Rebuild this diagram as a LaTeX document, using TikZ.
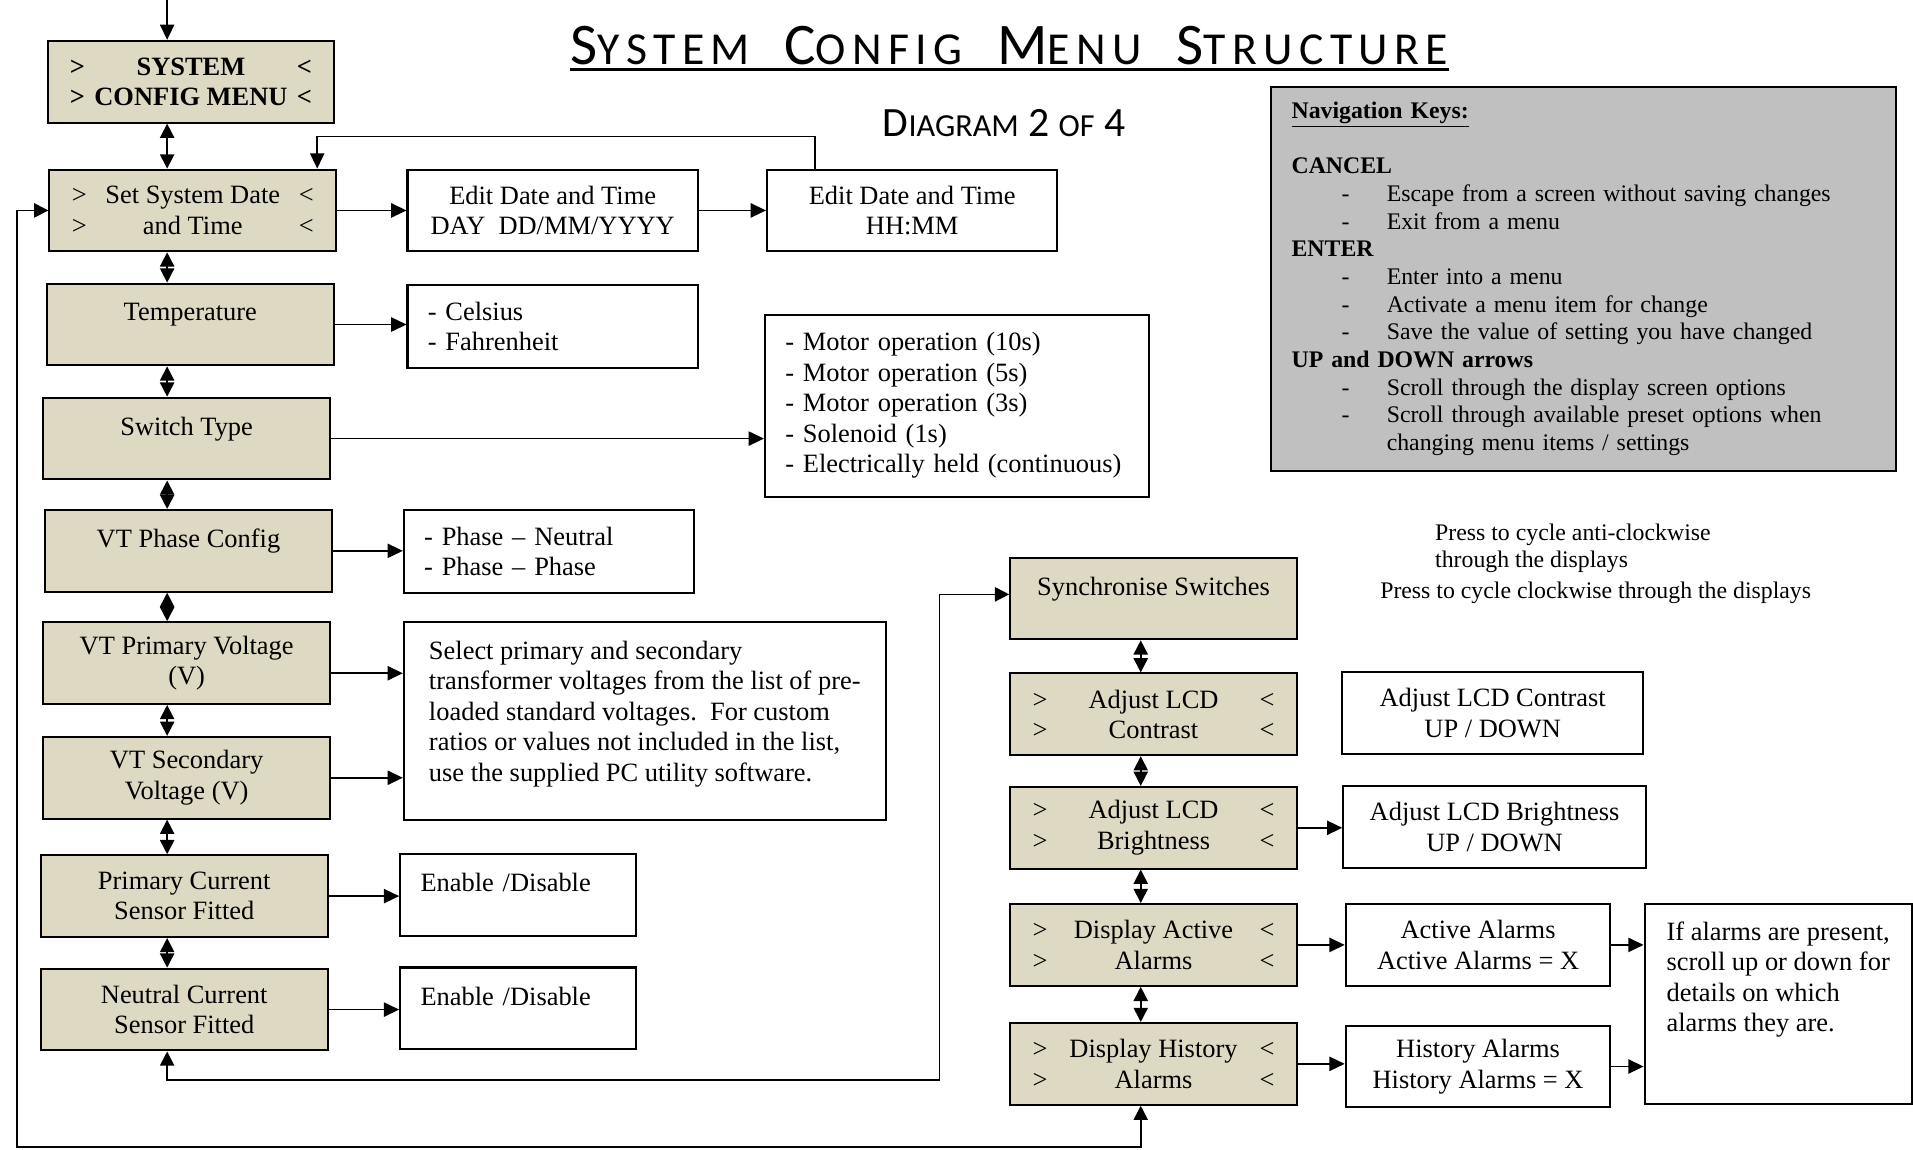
\documentclass[tikz,border=0pt]{standalone}
\usepackage{fontspec}
\setmainfont{Liberation Serif}
\newfontfamily\titlefont[LetterSpace=14]{Carlito}
\newfontfamily\subfont{Carlito}
\usetikzlibrary{arrows.meta, positioning}

\definecolor{menufill}{RGB}{221,217,195}
\definecolor{keyfill}{RGB}{192,192,192}

% one line of a menu screen: > text <
\newcommand{\mrow}[1]{\makebox[119pt]{>\hfill #1\hfill<}}
% fake small caps: big first letter, smaller rest
\newcommand{\sctext}[4]{{\fontsize{#1}{#1}\selectfont #3}{\fontsize{#2}{#2}\selectfont #4}}
% one entry of the navigation keys list
\newcommand{\navitem}[1]{\hspace*{24.6pt}\makebox[22.2pt][l]{-}#1}

\begin{document}
\begin{tikzpicture}[
    x=0.6pt, y=-0.6pt,
    node distance=33pt and 33pt,
    every node/.style = {font=\fontsize{13}{15}\selectfont},
    menu/.style = {rectangle, draw, fill=menufill, line width=1pt, minimum width=141pt, minimum height=40.2pt, align=center, inner sep=2pt},
    option/.style = {rectangle, draw, fill=white, line width=1pt, minimum height=40.2pt, align=center, inner sep=2pt},
    listbox/.style = {rectangle, draw, fill=white, line width=1pt, align=left, inner xsep=10pt, inner ysep=2pt},
    note/.style = {align=left, inner sep=0pt, font=\fontsize{11.7}{13.6}\selectfont},
    link/.style = {line width=0.8pt, -{Triangle[length=7.5pt, width=7pt]}},
    updown/.style = {line width=0.8pt, {Triangle[length=7pt, width=7pt]}-{Triangle[length=7pt, width=7pt]}}]

    \useasboundingbox (0,0) rectangle (1568,942);

    % title
    \node[inner sep=0pt, font=\titlefont] (title) at (827.5,37) {\sctext{29}{22.5}{S}{YSTEM}\hspace{17pt}\sctext{29}{22.5}{C}{ONFIG}\hspace{17pt}\sctext{29}{22.5}{M}{ENU}\hspace{17pt}\sctext{29}{22.5}{S}{TRUCTURE}};
    \draw[line width=1.6pt] (title.south west |- 0,57) -- (title.south east |- 0,57);
    \node[inner sep=0pt, font=\subfont] (diagno) at (823,101) {\sctext{20.5}{15.8}{D}{IAGRAM}\hspace{4.6pt}\sctext{20.5}{15.8}{2}{}\hspace{4.6pt}\sctext{20.5}{15.8}{}{OF}\hspace{4.6pt}\sctext{20.5}{15.8}{4}{}};

    % main menu column
    \node[menu, font=\fontsize{13}{15}\selectfont\bfseries] (sysmenu) at (156.5,67) {\mrow{SYSTEM}\\\mrow{CONFIG MENU}};
    \node[menu] (setdate) at (158,172.5) {\mrow{Set System Date}\\\mrow{and Time}};
    \node[menu] (temp) at (156,266) {Temperature\\[-3pt]\mbox{}};
    \node[menu] (swtype) at (153,359.5) {Switch Type\\[-3pt]\mbox{}};
    \node[menu] (vtphase) at (154.5,451.5) {VT Phase Config\\[-3pt]\mbox{}};
    \node[menu] (vtprim) at (153,543.5) {VT Primary Voltage\\(V)};
    \node[menu] (vtsec) at (153,637.5) {VT Secondary\\Voltage (V)};
    \node[menu] (primcur) at (151,734.5) {Primary Current\\Sensor Fitted};
    \node[menu] (neutcur) at (151,827.5) {Neutral Current\\Sensor Fitted};

    % settings for the main column
    \node[option, minimum width=142.8pt] (datedmy) at (453,172.5) {Edit Date and Time\\DAY\ \ DD/MM/YYYY};
    \node[option, minimum width=142.8pt, right=33pt of datedmy] (datehm) {Edit Date and Time\\HH:MM};
    \node[listbox, text width=122.8pt, minimum height=40.5pt] (tempopt) at (453,267.5) {- Celsius\\- Fahrenheit};
    \node[listbox, text width=169pt, minimum height=89.4pt] (swopt) at (784.5,332.5) {- Motor operation (10s)\\- Motor operation (5s)\\- Motor operation (3s)\\- Solenoid (1s)\\- Electrically held (continuous)};
    \node[listbox, text width=122.8pt, minimum height=40.8pt] (phaseopt) at (450,452) {- Phase – Neutral\\- Phase – Phase};
    \node[listbox, minimum width=237pt, minimum height=97.2pt] (vtnote) at (528.5,591) {Select primary and secondary\\transformer voltages from the list of pre-\\loaded standard voltages.\ \ For custom\\ratios or values not included in the list,\\use the supplied PC utility software.\\[-5.4pt]\mbox{}};
    \node[listbox, text width=95.8pt, minimum height=40.2pt] (primopt) at (424.5,733.5) {Enable /Disable\\[-3pt]\mbox{}};
    \node[listbox, text width=95.8pt, minimum height=40.2pt] (neutopt) at (424.5,826.5) {Enable /Disable\\[-3pt]\mbox{}};

    % display menu column
    \node[menu] (sync) at (945.5,490.5) {Synchronise Switches\\[-3pt]\mbox{}};
    \node[menu] (lcdcon) at (945.5,585.5) {\mrow{Adjust LCD}\\\mrow{Contrast}};
    \node[menu] (lcdbri) at (945.5,678.5) {\mrow{Adjust LCD}\\\mrow{Brightness}};
    \node[menu] (actalarm) at (945.5,774.5) {\mrow{Display Active}\\\mrow{Alarms}};
    \node[menu] (histalarm) at (945.5,872) {\mrow{Display History}\\\mrow{Alarms}};

    \node[option, minimum width=148.2pt] (lcdconval) at (1223.5,584.5) {Adjust LCD Contrast\\UP / DOWN};
    \node[option, minimum width=148.8pt] (lcdbrival) at (1225,678) {Adjust LCD Brightness\\UP / DOWN};
    \node[option, minimum width=130.2pt] (actval) at (1211.5,774.5) {Active Alarms\\Active Alarms = X};
    \node[option, minimum width=130.2pt, below=18.6pt of actval] (histval) {History Alarms\\History Alarms = X};
    \node[listbox, minimum width=131.4pt, minimum height=98.4pt] (alarmnote) at (1457.5,823) {If alarms are present,\\scroll up or down for\\details on which\\alarms they are.\\\mbox{}\\[-3pt]\mbox{}};

    % key help
    \node[rectangle, draw, fill=keyfill, line width=1pt, note, text width=287.2pt, inner xsep=10pt, minimum height=189pt] (navkeys) at (1298,228.5) {\textbf{\underline{Navigation Keys:}}\\\mbox{}\\\textbf{CANCEL}\\\navitem{Escape from a screen without saving changes}\\\navitem{Exit from a menu}\\\textbf{ENTER}\\\navitem{Enter into a menu}\\\navitem{Activate a menu item for change}\\\navitem{Save the value of setting you have changed}\\\textbf{UP and DOWN arrows}\\\navitem{Scroll through the display screen options}\\\navitem{Scroll through available preset options when}\\\hspace*{46.8pt}changing menu items / settings};
    \node[note, anchor=west] (pressacw) at (1176,449.5) {Press to cycle anti-clockwise\\through the displays};
    \node[note, anchor=west] (presscw) at (1131,486) {Press to cycle clockwise through the displays};

    \coordinate (leftx) at (137,0);
    \coordinate (rightx) at (935,0);
    \coordinate (backup) at (668,112);
    \coordinate (backdown) at (260,0);
    \coordinate (syncturn) at (770,885);
    \coordinate (wrapturn) at (14,940);

    \draw[link] (leftx) -- (sysmenu.north -| leftx);
    \draw[updown] (sysmenu.south -| leftx) -- (setdate.north -| leftx);
    \draw[updown] (setdate.south -| leftx) -- (temp.north -| leftx);
    \draw[updown] (temp.south -| leftx) -- (swtype.north -| leftx);
    \draw[updown] (swtype.south -| leftx) -- (vtphase.north -| leftx);
    \draw[updown] (vtphase.south -| leftx) -- (vtprim.north -| leftx);
    \draw[updown] (vtprim.south -| leftx) -- (vtsec.north -| leftx);
    \draw[updown] (vtsec.south -| leftx) -- (primcur.north -| leftx);
    \draw[updown] (primcur.south -| leftx) -- (neutcur.north -| leftx);

    \draw[updown] (sync.south -| rightx) -- (lcdcon.north -| rightx);
    \draw[updown] (lcdcon.south -| rightx) -- (lcdbri.north -| rightx);
    \draw[updown] (lcdbri.south -| rightx) -- (actalarm.north -| rightx);
    \draw[updown] (actalarm.south -| rightx) -- (histalarm.north -| rightx);

    \draw[link] (setdate) -- (datedmy);
    \draw[link] (datedmy) -- (datehm);
    \draw[link] (datehm.north -| backup) -- (backup) -| (setdate.north -| backdown);
    \draw[link] (temp.east) -- (temp.east -| tempopt.west);
    \draw[link] (swtype.east) -- (swtype.east -| swopt.west);
    \draw[link] (vtphase.east) -- (vtphase.east -| phaseopt.west);
    \draw[link] ([yshift=-5pt]vtprim.east) -- ([yshift=-5pt]vtprim.east -| vtnote.west);
    \draw[link] (vtsec.east) -- (vtsec.east -| vtnote.west);
    \draw[link] (primcur.east) -- (primcur.east -| primopt.west);
    \draw[link] (neutcur.east) -- (neutcur.east -| neutopt.west);

    \draw[link] (lcdbri.east) -- (lcdbri.east -| lcdbrival.west);
    \draw[link] (actalarm.east) -- (actalarm.east -| actval.west);
    \draw[link] (histalarm.east) -- (histalarm.east -| histval.west);
    \draw[link] (actval.east) -- (actval.east -| alarmnote.west);
    \draw[link] (histval.east) -- (histval.east -| alarmnote.west);

    \draw[updown] (neutcur.south -| leftx) |- (syncturn) |- ([yshift=2pt]sync.west);
    \draw[updown] (histalarm.south -| rightx) |- (wrapturn) |- (setdate.west);
\end{tikzpicture}
\end{document}
